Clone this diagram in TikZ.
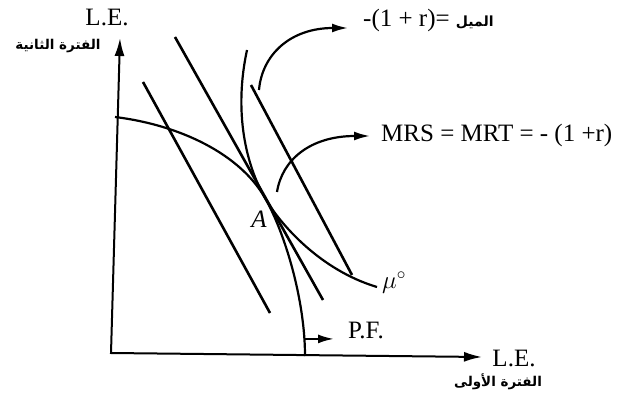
\documentclass[tikz,border=0pt]{standalone}
\usepackage{fontspec}
\setmainfont{Liberation Serif}
\newfontfamily\arabicfont[Script=Arabic]{DejaVu Sans}
\TeXXeTstate=1
\usetikzlibrary{arrows.meta}
\newcommand{\artxt}[1]{{\arabicfont\bfseries\fontsize{14}{16}\selectfont\beginR #1\endR}}

\begin{document}
\begin{tikzpicture}[
    x=1pt, y=-1pt,
    every node/.style={font=\fontsize{25}{27}\selectfont, inner sep=2pt},
    arlabel/.style={font=\fontsize{13.5}{15}\selectfont\arabicfont\bfseries},
    axis/.style={line width=2pt, {Latex[length=18pt,width=10pt]}-{Latex[length=18pt,width=10pt]}},
    budget/.style={line width=2.6pt},
    curve/.style={line width=2.2pt},
    pointer/.style={line width=2.2pt, -{Latex[length=16pt,width=9pt]}},
  ]
  \useasboundingbox (0,0) rectangle (618,414);

  % Axes
  \coordinate (O) at (111,353);
  \coordinate (ytip) at (120,38);
  \coordinate (xtip) at (482,357);
  \draw[axis] (ytip) -- (O) -- (xtip);
  \node (yle) at (107,17) {L.E.};
  \node[arlabel] (yper) at (58,46) {\beginR الفترة الثانية\endR};
  \node (xle) at (514,358) {L.E.};
  \node[arlabel] (xper) at (498,382) {\beginR الفترة الأولى\endR};

  % Budget lines
  \draw[budget] (143,82) -- (270,313);
  \draw[budget] (175,37) -- (323,300);
  \draw[budget] (251,85) -- (352,275);

  % Frontier and indifference curve, tangent at A
  \coordinate (A) at (265,198);
  \draw[curve] (115,117) .. controls (180,125) and (240,154) .. (A)
    .. controls (285,233) and (305,300) .. (305,356) coordinate[pos=0.9] (pfA);
  \draw[curve] (247,50) .. controls (232,120) and (250,172) .. (A)
    .. controls (280,224) and (320,270) .. (377,287);
  \node (alab) at (259,219) {\textit{A}};
  \node (mu) at (394,283) {$\mu^{\circ}$};

  % Pointers
  \coordinate (s1) at (259,90);
  \coordinate (t1) at (348,28);
  \node[anchor=west] (slope) at (361,20) {-(1 + r)= \artxt{الميل}};
  \draw[pointer] (s1) .. controls (262,55) and (290,28) .. (t1);

  \coordinate (s2) at (277,192);
  \coordinate (t2) at (370,136);
  \node[anchor=west] (mrs) at (379,135) {MRS = MRT = - (1 +r)};
  \draw[pointer] (s2) .. controls (282,160) and (310,136) .. (t2);

  \coordinate (pftip) at (334,338);
  \node (pf) at (366,330) {P.F.};
  \draw[pointer] (pfA) -- (pfA -| pftip);
\end{tikzpicture}
\end{document}
